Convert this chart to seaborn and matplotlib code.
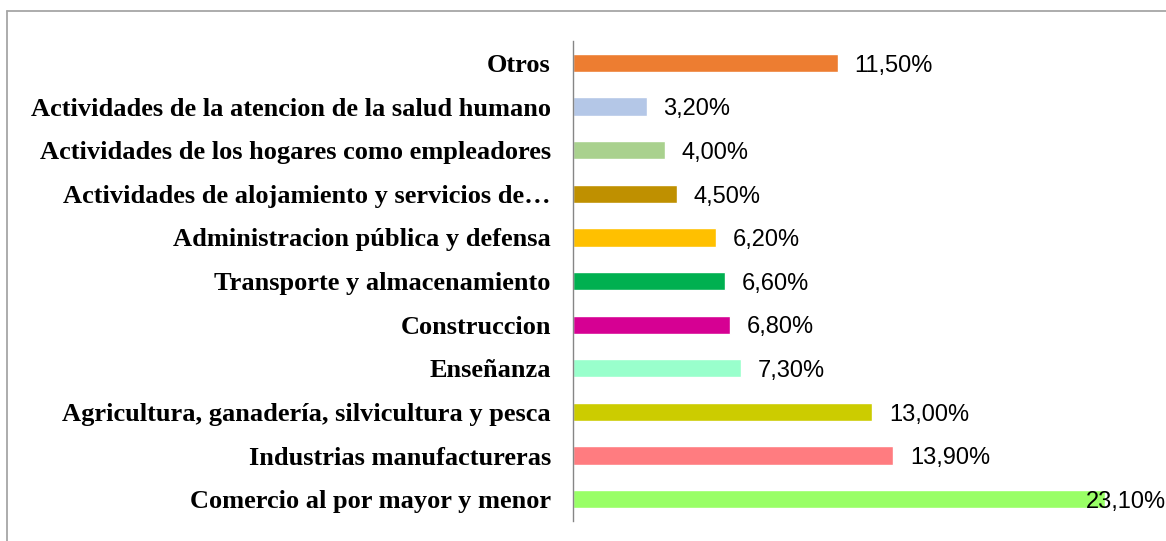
import matplotlib
matplotlib.use("Agg")
import matplotlib.pyplot as plt
from matplotlib.lines import Line2D
import seaborn as sns
import pandas as pd

# data, top to bottom as in the chart
sectors = [
    "Otros",
    "Actividades de la atencion de la salud humano",
    "Actividades de los hogares como empleadores",
    "Actividades de alojamiento y servicios de…",
    "Administracion pública y defensa",
    "Transporte y almacenamiento",
    "Construccion",
    "Enseñanza",
    "Agricultura, ganadería, silvicultura y pesca",
    "Industrias manufactureras",
    "Comercio al por mayor y menor",
]
shares = [11.5, 3.2, 4.0, 4.5, 6.2, 6.6, 6.8, 7.3, 13.0, 13.9, 23.1]
labels = ["11,50%", "3,20%", "4,00%", "4,50%", "6,20%", "6,60%",
          "6,80%", "7,30%", "13,00%", "13,90%", "23,10%"]
colors = ["#ED7D31", "#B4C7E7", "#A9D18E", "#BF9000", "#FFC000", "#00B050",
          "#D60093", "#99FFCC", "#CCCC00", "#FF7C80", "#99FF66"]

df = pd.DataFrame({"sector": sectors, "share": shares})

sns.set_style("white")
fig = plt.figure(figsize=(11.66, 5.41), dpi=100)
ax = fig.add_axes([0.4914, 0.037, 0.5086, 0.887])

sns.barplot(data=df, x="share", y="sector", hue="sector", order=sectors,
            palette=dict(zip(sectors, colors)), width=0.42, legend=False,
            saturation=1, ax=ax)

ax.set_xlim(0, 25.74)
ax.set_ylim(len(sectors) - 0.5, -0.5)
ax.set_xlabel("")
ax.set_ylabel("")
ax.set_xticks([])

for s in ["top", "right", "bottom"]:
    ax.spines[s].set_visible(False)
ax.spines["left"].set_color("#868686")
ax.spines["left"].set_linewidth(1.0)

# category labels, boundary ticks like the original
ax.set_yticks(range(len(sectors)))
ax.set_yticklabels(sectors, fontfamily="Liberation Serif", fontweight="bold",
                   fontsize=19, color="black")
ax.tick_params(axis="y", which="major", length=0, pad=16)
ax.set_yticks([i - 0.5 for i in range(len(sectors) + 1)], minor=True)
ax.tick_params(axis="y", which="minor", length=5, color="#868686", width=1.0, direction="out")

# value labels
xmax = ax.get_xlim()[1]
for i, (v, lab) in enumerate(zip(shares, labels)):
    if v == max(shares):
        ax.annotate(lab, (xmax, i), xytext=(0, -2), textcoords="offset points",
                    ha="right", va="center", fontsize=17, color="black",
                    fontfamily="Liberation Sans", annotation_clip=False)
    else:
        ax.annotate(lab, (v, i), xytext=(12, -2), textcoords="offset points",
                    ha="left", va="center", fontsize=17, color="black",
                    fontfamily="Liberation Sans")

# outer frame (top and left edges)
fig.add_artist(Line2D([7 / 1166, 1], [1 - 11 / 541, 1 - 11 / 541], color="#A6A6A6", lw=1.3))
fig.add_artist(Line2D([7 / 1166, 7 / 1166], [0, 1 - 11 / 541], color="#A6A6A6", lw=1.3))

fig.savefig("out.png", dpi=100)
